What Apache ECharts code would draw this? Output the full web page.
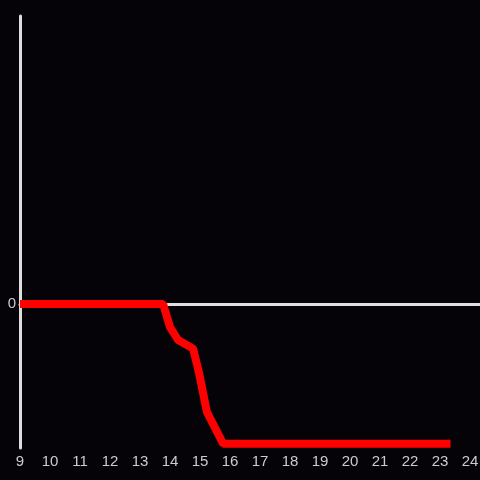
<!DOCTYPE html>
<html>
<head>
<meta charset="utf-8">
<script src="https://cdn.jsdelivr.net/npm/echarts@6/dist/echarts.min.js"></script>
<style>
  html, body { margin: 0; padding: 0; background: #050307; }
  #chart { width: 480px; height: 480px; }
</style>
</head>
<body>
<div id="chart"></div>
<script>
// values
var xValues = [9, 13.77, 14.0, 14.27, 14.77, 14.97, 15.23, 15.77, 23.35];
var yValues = [0, 0, -0.16, -0.25, -0.31, -0.48, -0.75, -0.97, -0.97];
var xMin = 9, xMax = 24.333;
var yMin = -1, yMax = 2;

var points = [];
for (var i = 0; i < xValues.length; ++i) {
    points.push([xValues[i], yValues[i]]);
}

var axisColor = '#dedede';
var textColor = '#cccccc';
var font = 'Liberation Sans';

var chart = echarts.init(document.getElementById('chart'));
chart.setOption({
    backgroundColor: '#050307',
    animation: false,
    grid: { left: 20, right: 0, top: 16, bottom: 32, outerBoundsMode: 'none', containLabel: false },
    xAxis: [
        {
            type: 'value',
            min: xMin,
            max: xMax,
            interval: 1,
            axisLine: { show: false, onZero: false },
            axisTick: { show: false },
            splitLine: { show: false },
            axisLabel: {
                color: textColor,
                fontSize: 15,
                fontFamily: font,
                margin: 6,
                formatter: function (v) {
                    return Math.round(v) === v ? String(v) : '';
                }
            }
        },
        {
            // the zero line across the plot
            type: 'value',
            position: 'bottom',
            min: xMin,
            max: xMax,
            axisLine: { show: true, onZero: true, lineStyle: { color: axisColor, width: 3 } },
            axisTick: { show: false },
            axisLabel: { show: false },
            splitLine: { show: false }
        }
    ],
    yAxis: {
        type: 'value',
        min: yMin,
        max: yMax,
        interval: 1,
        axisLine: { show: true, onZero: false, lineStyle: { color: axisColor, width: 3 } },
        axisTick: { show: false },
        splitLine: { show: false },
        axisLabel: {
            color: textColor,
            fontSize: 15,
            fontFamily: font,
            margin: 4,
            formatter: function (v) {
                return v === 0 ? '0' : '';
            }
        }
    },
    series: [
        {
            type: 'line',
            xAxisIndex: 0,
            data: points,
            symbol: 'none',
            z: 5,
            lineStyle: { color: '#ff0000', width: 8 }
        }
    ]
});
</script>
</body>
</html>
